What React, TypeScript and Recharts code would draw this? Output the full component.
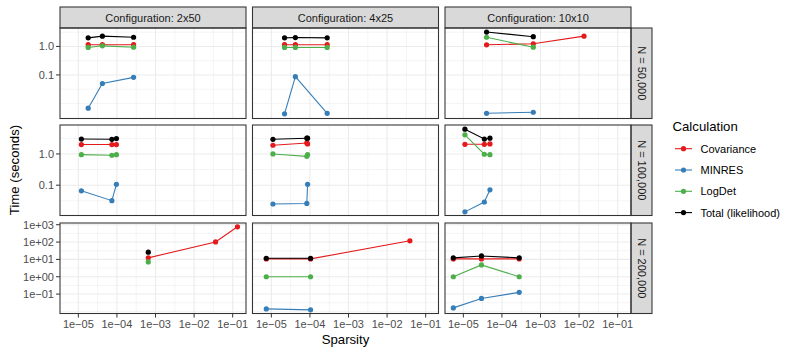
import { Line, LineChart, ReferenceLine, XAxis, YAxis } from "recharts"

const configs = ["2x50", "4x25", "10x10"]
const sizes = ["50,000", "100,000", "200,000"]
const calculations = ["Covariance", "MINRES", "LogDet", "Total (likelihood)"]
const colors = ["#E41A1C", "#377EB8", "#4DAF4A", "#000000"]

// N = 50,000 (one inner list per configuration)
const sparsity50k = [[1.8e-5, 4.2e-5, 2.7e-4], [2.2e-5, 4.2e-5, 2.8e-4], [4.0e-5, 6.5e-4, 1.34e-2]]
const covariance50k = [[1.15, 1.15, 1.15], [1.15, 1.15, 1.15], [1.14, 1.24, 2.3]]
const minres50k = [[0.0068, 0.05, 0.082], [0.0043, 0.087, 0.0045], [0.0045, 0.0049, null]]
const logdet50k = [[0.92, 1.05, 0.94], [0.92, 0.92, 0.92], [2.1, 0.94, null]]
const total50k = [[2.0, 2.3, 2.1], [2.0, 2.05, 2.0], [3.2, 2.2, null]]

// N = 100,000
const sparsity100k = [[1.2e-5, 7.4e-5, 9.7e-5], [1.1e-5, 8.3e-5, 8.7e-5], [1.1e-5, 3.5e-5, 4.9e-5]]
const covariance100k = [[2.0, 2.0, 2.0], [1.9, 2.25, 2.1], [2.04, 2.04, 2.1]]
const minres100k = [[0.066, 0.032, 0.107], [0.025, 0.026, 0.107], [0.014, 0.029, 0.071]]
const logdet100k = [[0.95, 0.91, 0.95], [1.0, 0.84, 0.95], [4.1, 0.98, 0.95]]
const total100k = [[3.0, 2.95, 3.1], [2.95, 3.2, 3.2], [6.2, 3.0, 3.2]]

// N = 200,000
const sparsity200k = [[6.5e-4, 0.036, 0.133], [7.4e-6, 1.04e-4, 0.039], [5.5e-6, 2.95e-5, 2.8e-4]]
const covariance200k = [[12.3, 102, 760], [10.7, 10.7, 118], [10.7, 10.7, 10.7]]
const minres200k = [[null, null, null], [0.014, 0.0123, null], [0.016, 0.056, 0.126]]
const logdet200k = [[7.2, null, null], [1.0, 1.0, null], [1.0, 4.8, 1.0]]
const total200k = [[26, null, null], [11.7, 11.7, null], [12.3, 15.8, 12.3]]

const xTicks = [1e-5, 1e-4, 1e-3, 1e-2, 1e-1]
const xMinor = [10 ** -4.5, 10 ** -3.5, 10 ** -2.5, 10 ** -1.5]
const xDomain = [10 ** -5.475, 10 ** -0.655]

const yTicks = [[0.1, 1], [0.1, 1], [0.1, 1, 10, 100, 1000]]
const yMinor = [
  [0.01, 10 ** -1.5, 10 ** -0.5, 10 ** 0.5],
  [10 ** -1.5, 10 ** -0.5, 10 ** 0.5],
  [0.01, 10 ** -1.5, 10 ** -0.5, 10 ** 0.5, 10 ** 1.5, 10 ** 2.5],
]
const yDomains = [
  [10 ** -2.53, 10 ** 0.647],
  [10 ** -1.97, 10 ** 0.927],
  [10 ** -2.12, 10 ** 3.1],
]

const rows = [
  { x: sparsity50k, series: [covariance50k, minres50k, logdet50k, total50k] },
  { x: sparsity100k, series: [covariance100k, minres100k, logdet100k, total100k] },
  { x: sparsity200k, series: [covariance200k, minres200k, logdet200k, total200k] },
]

const FONT = "'Liberation Sans', Arial, Helvetica, sans-serif"
const colLeft = [60, 252.5, 445]
const rowTop = [28, 125, 223]
const PW = 186
const PH = 90.5
const YAXIS_W = 60
const XAXIS_H = 40
const PAD = 16 // room around each plot so edge tick labels are not clipped

const sci = (v: number) => {
  const e = Math.round(Math.log10(v))
  return `1e${e < 0 ? "\u2212" : "+"}${String(Math.abs(e)).padStart(2, "0")}`
}
const dec = (v: number) => (v >= 1 ? v.toFixed(1) : String(v))

function Panel({ r, c }: { r: number; c: number }) {
  const xs = rows[r].x[c]
  const yw = c === 0 ? YAXIS_W : 0
  const xh = r === 2 ? XAXIS_H : 0
  const left = colLeft[c] - yw - PAD
  const top = rowTop[r] - PAD
  const w = PW + yw + 2 * PAD
  const h = PH + xh + 2 * PAD
  const tickStyle = { fill: "#4D4D4D", fontSize: 11 }
  return (
    <div style={{ position: "absolute", left, top }}>
      <LineChart width={w} height={h} margin={{ top: PAD, right: PAD, bottom: PAD, left: PAD }}>
        <XAxis
          dataKey="x"
          type="number"
          scale="log"
          domain={xDomain}
          allowDataOverflow
          ticks={xTicks}
          tickFormatter={sci}
          hide={r !== 2}
          height={XAXIS_H}
          axisLine={false}
          tickSize={4}
          tickMargin={3}
          tickLine={{ stroke: "#333333" }}
          tick={tickStyle}
          interval={0}
        />
        <YAxis
          dataKey="y"
          type="number"
          scale="log"
          domain={yDomains[r]}
          allowDataOverflow
          ticks={yTicks[r]}
          tickFormatter={r === 2 ? sci : dec}
          hide={c !== 0}
          width={YAXIS_W}
          axisLine={false}
          tickSize={4}
          tickMargin={2}
          tickLine={{ stroke: "#333333" }}
          tick={tickStyle}
          interval={0}
        />
        {xMinor.map((v) => (
          <ReferenceLine key={"xm" + v} x={v} stroke="#EBEBEB" strokeWidth={0.55} />
        ))}
        {yMinor[r].map((v) => (
          <ReferenceLine key={"ym" + v} y={v} stroke="#EBEBEB" strokeWidth={0.55} />
        ))}
        {xTicks.map((v) => (
          <ReferenceLine key={"x" + v} x={v} stroke="#EBEBEB" strokeWidth={1.07} />
        ))}
        {yTicks[r].map((v) => (
          <ReferenceLine key={"y" + v} y={v} stroke="#EBEBEB" strokeWidth={1.07} />
        ))}
        {rows[r].series.map((s, i) => {
          const pts = xs
            .map((x, k) => ({ x, y: s[c][k] }))
            .filter((p) => p.y !== null)
          return (
            <Line
              key={calculations[i]}
              data={pts}
              dataKey="y"
              name={calculations[i]}
              stroke={colors[i]}
              strokeWidth={1.1}
              dot={{ r: 2.6, fill: colors[i], stroke: colors[i], strokeWidth: 0 }}
              activeDot={false}
              isAnimationActive={false}
            />
          )
        })}
      </LineChart>
    </div>
  )
}

function Overlay() {
  return (
    <svg
      width={793}
      height={353}
      style={{ position: "absolute", left: 0, top: 0, pointerEvents: "none" }}
      fontFamily={FONT}
    >
      {configs.map((cfg, c) => (
        <g key={cfg}>
          <rect x={colLeft[c]} y={7} width={PW} height={21} fill="#D9D9D9" stroke="#333333" strokeWidth={1.07} />
          <text x={colLeft[c] + PW / 2} y={17.8} textAnchor="middle" dominantBaseline="central" fontSize={11} fill="#1A1A1A">
            {"Configuration: " + cfg}
          </text>
        </g>
      ))}
      {sizes.map((n, r) => (
        <g key={n}>
          <rect x={631} y={rowTop[r]} width={21} height={PH} fill="#D9D9D9" stroke="#333333" strokeWidth={1.07} />
          <text
            x={641.5}
            y={rowTop[r] + PH / 2}
            textAnchor="middle"
            dominantBaseline="central"
            fontSize={11}
            fill="#1A1A1A"
            transform={`rotate(90 641.5 ${rowTop[r] + PH / 2})`}
          >
            {"N = " + n}
          </text>
        </g>
      ))}
      {rowTop.map((t) =>
        colLeft.map((l) => (
          <rect key={t + "-" + l} x={l} y={t} width={PW} height={PH} fill="none" stroke="#333333" strokeWidth={1.07} />
        ))
      )}
      <text x={345.5} y={339} textAnchor="middle" dominantBaseline="central" fontSize={13.2} fill="#000">
        Sparsity
      </text>
      <text
        x={14}
        y={170}
        textAnchor="middle"
        dominantBaseline="central"
        fontSize={13.2}
        fill="#000"
        transform="rotate(-90 14 170)"
      >
        Time (seconds)
      </text>
      <text x={672.5} y={126} dominantBaseline="central" fontSize={13.2} fill="#000">
        Calculation
      </text>
      {calculations.map((name, i) => {
        const cy = 148.7 + i * 21.3
        return (
          <g key={name}>
            <line x1={675} x2={692} y1={cy} y2={cy} stroke={colors[i]} strokeWidth={1.1} />
            <circle cx={683.5} cy={cy} r={2.6} fill={colors[i]} />
            <text x={700.5} y={cy} dominantBaseline="central" fontSize={11} fill="#000">
              {name}
            </text>
          </g>
        )
      })}
    </svg>
  )
}

export default function App() {
  return (
    <div
      style={{
        position: "absolute",
        left: 0,
        top: 0,
        width: 793,
        height: 353,
        background: "#FFFFFF",
        fontFamily: FONT,
      }}
    >
      {[0, 1, 2].map((r) => [0, 1, 2].map((c) => <Panel key={r + "-" + c} r={r} c={c} />))}
      <Overlay />
    </div>
  )
}
